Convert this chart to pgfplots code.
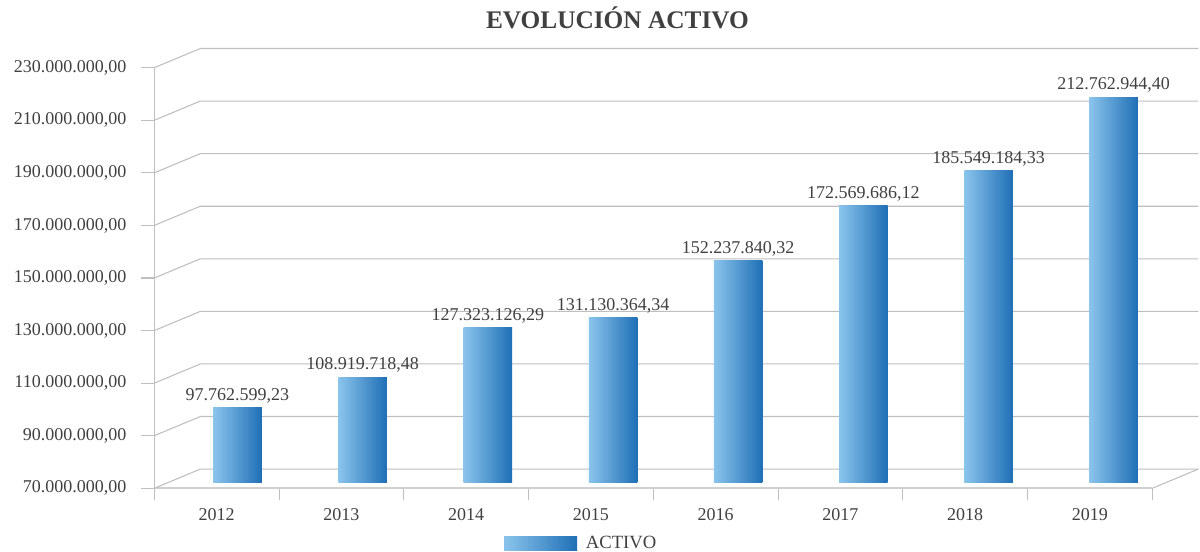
\documentclass[border=0pt]{standalone}
\usepackage{fontspec}
\setmainfont{Liberation Serif}
\usepackage{pgfplots}
\pgfplotsset{compat=1.18}
\definecolor{txt}{HTML}{404040}
\definecolor{gridc}{HTML}{BFBFBF}
\definecolor{floorc}{HTML}{D0D0D0}
\definecolor{barL}{HTML}{8AC4EC}
\definecolor{barR}{HTML}{1F6FB6}
\begin{document}
\begin{tikzpicture}
\path[use as bounding box] (0pt,0pt) rectangle (900pt,-414pt);
% front plane: axis, ticks, back wall grid
\begin{axis}[
  at={(115.725pt,-366.225pt)}, anchor=south west,
  scale only axis, width=748.5pt, height=315.45pt,
  xmin=0, xmax=8, ymin=70, ymax=230,
  clip=false,
  axis x line*=bottom, axis y line*=left,
  x axis line style={draw=floorc, line width=1.6pt, -},
  y axis line style={draw=gridc, line width=0.8pt, -},
  ytick={70,90,110,130,150,170,190,210,230},
  yticklabels={{70.000.000,00},{90.000.000,00},{110.000.000,00},{130.000.000,00},{150.000.000,00},{170.000.000,00},{190.000.000,00},{210.000.000,00},{230.000.000,00}},
  tick align=outside,
  major tick length=9.75pt,
  major y tick style={draw=gridc, line width=0.8pt},
  xtick={0.5,1.5,2.5,3.5,4.5,5.5,6.5,7.5},
  xticklabels={2012,2013,2014,2015,2016,2017,2018,2019},
  major x tick style={draw=none},
  minor xtick={0,1,2,3,4,5,6,7,8},
  minor tick length=9pt,
  minor x tick style={draw=gridc, line width=0.8pt},
  /pgf/number format/assume math mode=true,
  every tick label/.append style={font=\fontsize{13.5}{16}\selectfont, text=txt},
  xticklabel style={yshift=-1.75pt},
  yticklabel style={xshift=-7.75pt},
  title={EVOLUCIÓN ACTIVO},
  title style={at={(0.4641,1.100)}, anchor=center, font=\bfseries\fontsize{19}{23}\selectfont, text=txt},
]
\pgfplotsinvokeforeach{70,90,110,130,150,170,190,210,230}{
  \draw[gridc, line width=0.8pt] (axis cs:0,#1) -- ++(34.5pt,14.4pt) -- ([shift={(34.5pt,14.4pt)}]axis cs:8,#1);
}
\draw[gridc, line width=0.8pt] (axis cs:8,70) -- ++(34.5pt,14.4pt);
\end{axis}
% bar plane
\begin{axis}[
  at={(131.175pt,-361.875pt)}, anchor=south west,
  scale only axis, width=751.05pt, height=323.85pt,
  xmin=0, xmax=8, ymin=70, ymax=230,
  hide axis,
  legend style={draw=none, fill=none, at={(0.3246,-0.1401)}, anchor=west,
    font=\fontsize{14}{16}\selectfont, text=txt,
    /tikz/every odd column/.append style={column sep=4.5pt}},
  legend image code/.code={\shade[left color=barL, right color=barR] (0pt,-5.25pt) rectangle (54.75pt,5.25pt);},
  every axis plot/.append style={ybar, bar width=36.4pt, bar shift=0pt, draw=none, mark=none, left color=barL, right color=barR},
]
\addplot[mark=none] coordinates {(0.5,97.76259923)};
\addlegendentry{ACTIVO}
\addplot[forget plot] coordinates {(1.5,108.91971848)};
\addplot[forget plot] coordinates {(2.5,127.32312629)};
\addplot[forget plot] coordinates {(3.5,131.13036434)};
\addplot[forget plot] coordinates {(4.5,152.23784032)};
\addplot[forget plot] coordinates {(5.5,172.56968612)};
\addplot[forget plot] coordinates {(6.5,185.54918433)};
\addplot[forget plot] coordinates {(7.5,212.76294440)};
\end{axis}
% data labels
\begin{axis}[
  at={(131.175pt,-361.875pt)}, anchor=south west,
  scale only axis, width=751.05pt, height=323.85pt,
  xmin=0, xmax=8, ymin=70, ymax=230,
  hide axis,
]
\addplot[ybar, bar width=36.4pt, bar shift=0pt, draw=none, fill=none, mark=none, point meta=explicit symbolic,
  nodes near coords, nodes near coords style={font=\fontsize{13.5}{16}\selectfont, text=txt, anchor=south}] coordinates {
(0.5,97.76259923) [97.762.599,23]
(1.5,108.91971848) [108.919.718,48]
(2.5,127.32312629) [127.323.126,29]
(3.5,131.13036434) [131.130.364,34]
(4.5,152.23784032) [152.237.840,32]
(5.5,172.56968612) [172.569.686,12]
(6.5,185.54918433) [185.549.184,33]
(7.5,212.76294440) [212.762.944,40]
};
\end{axis}
\end{tikzpicture}
\end{document}
